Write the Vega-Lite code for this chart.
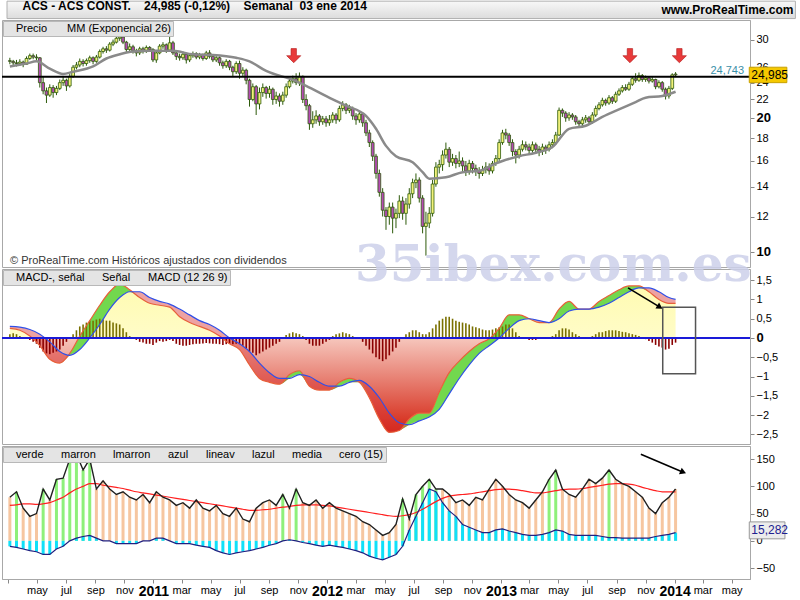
{
"$schema":"https://vega.github.io/schema/vega-lite/v6.json",
"padding":{"left":0,"right":4,"top":0,"bottom":0},
"background":"white",
"bounds":"flush",
"title":{"text":"ACS - ACS CONST.\u00a0\u00a0\u00a0\u00a024,985 (-0,12%)\u00a0\u00a0\u00a0\u00a0Semanal\u00a0\u00a003 ene 2014","anchor":"start","font":"Liberation Sans","fontSize":12,"fontWeight":"bold","color":"#000","offset":-13,"dx":22,"zindex":10},
"config":{"locale":{"number":{"decimal":",","thousands":".","grouping":[3],"currency":["","€"]}},"view":{"stroke":"#a8a8a8"},"font":"Liberation Sans","axis":{"labelFont":"Liberation Sans","labelFontSize":11,"labelColor":"#000","tickColor":"#888","domainColor":"#a8a8a8","grid":false,"tickSize":4,"labelOverlap":false}},
"spacing":2,
"resolve":{"scale":{"color":"independent"},"legend":{"color":"independent"}},
"datasets":{
"w":[
{"d":"2010-03-05","o":26.9,"h":27.3,"l":26.4,"c":26.8,"hm":0.10},
{"d":"2010-03-12","o":26.8,"h":27.0,"l":26.3,"c":26.6,"hm":0.12},
{"d":"2010-03-19","o":26.6,"h":27.0,"l":26.1,"c":26.5,"hm":0.10},
{"d":"2010-03-26","o":26.5,"h":27.1,"l":26.2,"c":26.7,"hm":0.05},
{"d":"2010-04-02","o":26.7,"h":26.9,"l":26.0,"c":26.4,"hm":0.02},
{"d":"2010-04-09","o":26.4,"h":27.5,"l":26.3,"c":27.2,"hm":0.0},
{"d":"2010-04-16","o":27.2,"h":27.9,"l":27.0,"c":27.6,"hm":-0.05},
{"d":"2010-04-23","o":27.6,"h":27.9,"l":27.1,"c":27.4,"hm":-0.10},
{"d":"2010-04-30","o":27.4,"h":27.8,"l":26.8,"c":27.3,"hm":-0.15},
{"d":"2010-05-07","o":27.3,"h":27.4,"l":23.4,"c":24.0,"hm":-0.25},
{"d":"2010-05-14","o":24.0,"h":24.8,"l":22.6,"c":23.0,"hm":-0.35},
{"d":"2010-05-21","o":23.0,"h":23.4,"l":21.6,"c":22.5,"hm":-0.40},
{"d":"2010-05-28","o":22.5,"h":23.8,"l":22.3,"c":23.4,"hm":-0.42},
{"d":"2010-06-04","o":23.4,"h":23.7,"l":22.2,"c":22.8,"hm":-0.38},
{"d":"2010-06-11","o":22.8,"h":23.6,"l":22.5,"c":23.3,"hm":-0.35},
{"d":"2010-06-18","o":23.3,"h":24.4,"l":23.1,"c":24.0,"hm":-0.30},
{"d":"2010-06-25","o":24.0,"h":24.8,"l":23.6,"c":24.3,"hm":-0.20},
{"d":"2010-07-02","o":24.3,"h":24.5,"l":23.0,"c":23.6,"hm":-0.10},
{"d":"2010-07-09","o":23.6,"h":25.1,"l":23.4,"c":24.8,"hm":0.0},
{"d":"2010-07-16","o":24.8,"h":26.3,"l":24.6,"c":26.0,"hm":0.10},
{"d":"2010-07-23","o":26.0,"h":26.7,"l":25.7,"c":26.3,"hm":0.20},
{"d":"2010-07-30","o":26.3,"h":27.2,"l":26.0,"c":26.8,"hm":0.30},
{"d":"2010-08-06","o":26.8,"h":27.1,"l":26.1,"c":26.5,"hm":0.35},
{"d":"2010-08-13","o":26.5,"h":27.2,"l":26.2,"c":26.9,"hm":0.40},
{"d":"2010-08-20","o":26.9,"h":27.6,"l":26.6,"c":27.3,"hm":0.45},
{"d":"2010-08-27","o":27.3,"h":27.5,"l":26.4,"c":26.8,"hm":0.45},
{"d":"2010-09-03","o":26.8,"h":27.7,"l":26.6,"c":27.4,"hm":0.48},
{"d":"2010-09-10","o":27.4,"h":28.5,"l":27.2,"c":28.2,"hm":0.50},
{"d":"2010-09-17","o":28.2,"h":28.9,"l":27.9,"c":28.6,"hm":0.48},
{"d":"2010-09-24","o":28.6,"h":29.0,"l":28.0,"c":28.4,"hm":0.45},
{"d":"2010-10-01","o":28.4,"h":29.6,"l":28.2,"c":29.3,"hm":0.45},
{"d":"2010-10-08","o":29.3,"h":30.0,"l":29.0,"c":29.6,"hm":0.40},
{"d":"2010-10-15","o":29.6,"h":30.6,"l":29.4,"c":30.2,"hm":0.38},
{"d":"2010-10-22","o":30.2,"h":30.8,"l":29.8,"c":30.4,"hm":0.35},
{"d":"2010-10-29","o":30.4,"h":30.6,"l":29.3,"c":29.6,"hm":0.25},
{"d":"2010-11-05","o":29.6,"h":29.8,"l":28.1,"c":28.5,"hm":0.15},
{"d":"2010-11-12","o":28.5,"h":29.4,"l":28.0,"c":28.9,"hm":0.05},
{"d":"2010-11-19","o":28.9,"h":29.2,"l":27.9,"c":28.3,"hm":0.0},
{"d":"2010-11-26","o":28.3,"h":28.6,"l":27.5,"c":28.0,"hm":-0.05},
{"d":"2010-12-03","o":28.0,"h":28.9,"l":27.7,"c":28.6,"hm":-0.10},
{"d":"2010-12-10","o":28.6,"h":28.9,"l":27.9,"c":28.3,"hm":-0.12},
{"d":"2010-12-17","o":28.3,"h":29.1,"l":28.0,"c":28.8,"hm":-0.15},
{"d":"2010-12-24","o":28.8,"h":29.0,"l":28.2,"c":28.5,"hm":-0.15},
{"d":"2010-12-31","o":28.5,"h":28.7,"l":26.7,"c":27.0,"hm":-0.18},
{"d":"2011-01-07","o":27.0,"h":28.3,"l":26.6,"c":28.0,"hm":-0.12},
{"d":"2011-01-14","o":28.0,"h":29.3,"l":27.8,"c":29.0,"hm":-0.08},
{"d":"2011-01-21","o":29.0,"h":29.6,"l":28.6,"c":29.2,"hm":-0.10},
{"d":"2011-01-28","o":29.2,"h":29.4,"l":28.0,"c":28.4,"hm":-0.08},
{"d":"2011-02-04","o":28.4,"h":30.9,"l":28.2,"c":29.5,"hm":-0.05},
{"d":"2011-02-11","o":29.5,"h":29.8,"l":27.7,"c":28.0,"hm":-0.08},
{"d":"2011-02-18","o":28.0,"h":28.3,"l":27.0,"c":27.5,"hm":-0.15},
{"d":"2011-02-25","o":27.5,"h":27.9,"l":26.9,"c":27.3,"hm":-0.18},
{"d":"2011-03-04","o":27.3,"h":28.2,"l":27.0,"c":27.8,"hm":-0.20},
{"d":"2011-03-11","o":27.8,"h":28.0,"l":26.5,"c":27.0,"hm":-0.20},
{"d":"2011-03-18","o":27.0,"h":27.9,"l":26.7,"c":27.6,"hm":-0.18},
{"d":"2011-03-25","o":27.6,"h":28.2,"l":27.3,"c":27.9,"hm":-0.16},
{"d":"2011-04-01","o":27.9,"h":28.1,"l":27.1,"c":27.4,"hm":-0.15},
{"d":"2011-04-08","o":27.4,"h":28.0,"l":27.1,"c":27.7,"hm":-0.15},
{"d":"2011-04-15","o":27.7,"h":27.9,"l":26.9,"c":27.2,"hm":-0.14},
{"d":"2011-04-22","o":27.2,"h":28.3,"l":27.0,"c":28.0,"hm":-0.13},
{"d":"2011-04-29","o":28.0,"h":28.4,"l":27.2,"c":27.5,"hm":-0.14},
{"d":"2011-05-06","o":27.5,"h":27.8,"l":26.7,"c":27.0,"hm":-0.15},
{"d":"2011-05-13","o":27.0,"h":27.6,"l":26.7,"c":27.3,"hm":-0.15},
{"d":"2011-05-20","o":27.3,"h":27.5,"l":26.2,"c":26.6,"hm":-0.16},
{"d":"2011-05-27","o":26.6,"h":26.9,"l":25.8,"c":26.2,"hm":-0.18},
{"d":"2011-06-03","o":26.2,"h":27.1,"l":25.9,"c":26.8,"hm":-0.16},
{"d":"2011-06-10","o":26.8,"h":27.0,"l":25.6,"c":26.0,"hm":-0.15},
{"d":"2011-06-17","o":26.0,"h":26.2,"l":24.7,"c":25.4,"hm":-0.16},
{"d":"2011-06-24","o":25.4,"h":26.8,"l":25.1,"c":26.5,"hm":-0.15},
{"d":"2011-07-01","o":26.5,"h":26.9,"l":24.5,"c":25.2,"hm":-0.16},
{"d":"2011-07-08","o":25.2,"h":26.0,"l":24.8,"c":25.6,"hm":-0.20},
{"d":"2011-07-15","o":25.6,"h":25.8,"l":23.8,"c":24.3,"hm":-0.28},
{"d":"2011-07-22","o":24.3,"h":24.5,"l":21.2,"c":22.0,"hm":-0.35},
{"d":"2011-07-29","o":22.0,"h":23.9,"l":21.8,"c":23.5,"hm":-0.38},
{"d":"2011-08-05","o":23.5,"h":23.7,"l":20.3,"c":21.5,"hm":-0.45},
{"d":"2011-08-12","o":21.5,"h":23.4,"l":20.9,"c":22.8,"hm":-0.40},
{"d":"2011-08-19","o":22.8,"h":23.9,"l":22.3,"c":23.4,"hm":-0.35},
{"d":"2011-08-26","o":23.4,"h":23.6,"l":22.1,"c":22.7,"hm":-0.30},
{"d":"2011-09-02","o":22.7,"h":23.6,"l":22.2,"c":23.2,"hm":-0.25},
{"d":"2011-09-09","o":23.2,"h":23.4,"l":21.4,"c":22.0,"hm":-0.20},
{"d":"2011-09-16","o":22.0,"h":22.9,"l":21.5,"c":22.4,"hm":-0.15},
{"d":"2011-09-23","o":22.4,"h":22.7,"l":21.2,"c":21.8,"hm":-0.10},
{"d":"2011-09-30","o":21.8,"h":22.9,"l":21.4,"c":22.5,"hm":-0.02},
{"d":"2011-10-07","o":22.5,"h":23.9,"l":22.2,"c":23.5,"hm":0.08},
{"d":"2011-10-14","o":23.5,"h":24.6,"l":23.3,"c":24.2,"hm":0.12},
{"d":"2011-10-21","o":24.2,"h":24.9,"l":23.9,"c":24.5,"hm":0.15},
{"d":"2011-10-28","o":24.5,"h":25.2,"l":23.7,"c":24.0,"hm":0.12},
{"d":"2011-11-04","o":24.0,"h":25.3,"l":23.6,"c":24.8,"hm":0.10},
{"d":"2011-11-11","o":24.8,"h":24.9,"l":21.6,"c":22.0,"hm":0.05},
{"d":"2011-11-18","o":22.0,"h":22.6,"l":20.8,"c":21.3,"hm":-0.05},
{"d":"2011-11-25","o":21.3,"h":21.5,"l":18.8,"c":19.4,"hm":-0.15},
{"d":"2011-12-02","o":19.4,"h":20.7,"l":19.0,"c":19.8,"hm":-0.20},
{"d":"2011-12-09","o":19.8,"h":20.8,"l":19.4,"c":20.2,"hm":-0.20},
{"d":"2011-12-16","o":20.2,"h":20.4,"l":19.2,"c":19.6,"hm":-0.20},
{"d":"2011-12-23","o":19.6,"h":20.2,"l":19.3,"c":19.9,"hm":-0.15},
{"d":"2011-12-30","o":19.9,"h":20.2,"l":19.1,"c":19.5,"hm":-0.10},
{"d":"2012-01-06","o":19.5,"h":20.3,"l":19.2,"c":19.8,"hm":-0.05},
{"d":"2012-01-13","o":19.8,"h":20.6,"l":19.5,"c":20.3,"hm":0.05},
{"d":"2012-01-20","o":20.3,"h":20.5,"l":19.4,"c":19.8,"hm":0.10},
{"d":"2012-01-27","o":19.8,"h":21.3,"l":19.6,"c":21.0,"hm":0.12},
{"d":"2012-02-03","o":21.0,"h":21.8,"l":20.7,"c":21.4,"hm":0.15},
{"d":"2012-02-10","o":21.4,"h":21.6,"l":20.4,"c":20.8,"hm":0.12},
{"d":"2012-02-17","o":20.8,"h":21.4,"l":20.5,"c":21.0,"hm":0.10},
{"d":"2012-02-24","o":21.0,"h":21.2,"l":19.8,"c":20.2,"hm":0.05},
{"d":"2012-03-02","o":20.2,"h":20.5,"l":19.3,"c":19.8,"hm":0.0},
{"d":"2012-03-09","o":19.8,"h":20.7,"l":19.5,"c":20.4,"hm":-0.02},
{"d":"2012-03-16","o":20.4,"h":20.6,"l":19.1,"c":19.5,"hm":-0.10},
{"d":"2012-03-23","o":19.5,"h":19.8,"l":18.2,"c":18.5,"hm":-0.20},
{"d":"2012-03-30","o":18.5,"h":18.8,"l":17.2,"c":17.6,"hm":-0.30},
{"d":"2012-04-06","o":17.6,"h":17.8,"l":16.0,"c":16.4,"hm":-0.40},
{"d":"2012-04-13","o":16.4,"h":16.6,"l":14.6,"c":15.0,"hm":-0.50},
{"d":"2012-04-20","o":15.0,"h":15.3,"l":13.3,"c":13.6,"hm":-0.55},
{"d":"2012-04-27","o":13.6,"h":13.9,"l":12.0,"c":12.4,"hm":-0.60},
{"d":"2012-05-04","o":12.4,"h":12.6,"l":11.2,"c":12.0,"hm":-0.55},
{"d":"2012-05-11","o":12.0,"h":12.9,"l":11.5,"c":12.6,"hm":-0.45},
{"d":"2012-05-18","o":12.6,"h":12.9,"l":11.0,"c":11.9,"hm":-0.35},
{"d":"2012-05-25","o":11.9,"h":12.5,"l":11.3,"c":12.2,"hm":-0.25},
{"d":"2012-06-01","o":12.2,"h":13.4,"l":11.9,"c":13.0,"hm":-0.10},
{"d":"2012-06-08","o":13.0,"h":13.3,"l":11.8,"c":12.2,"hm":0.0},
{"d":"2012-06-15","o":12.2,"h":13.2,"l":11.5,"c":12.8,"hm":0.10},
{"d":"2012-06-22","o":12.8,"h":13.9,"l":12.5,"c":13.5,"hm":0.15},
{"d":"2012-06-29","o":13.5,"h":14.6,"l":13.2,"c":14.3,"hm":0.20},
{"d":"2012-07-06","o":14.3,"h":15.0,"l":13.9,"c":14.5,"hm":0.20},
{"d":"2012-07-13","o":14.5,"h":14.7,"l":12.9,"c":13.2,"hm":0.15},
{"d":"2012-07-20","o":13.2,"h":13.4,"l":11.0,"c":11.4,"hm":0.10},
{"d":"2012-07-27","o":11.4,"h":12.3,"l":9.8,"c":11.6,"hm":0.10},
{"d":"2012-08-03","o":11.6,"h":12.6,"l":11.3,"c":12.2,"hm":0.15},
{"d":"2012-08-10","o":12.2,"h":14.5,"l":12.0,"c":14.2,"hm":0.25},
{"d":"2012-08-17","o":14.2,"h":15.9,"l":14.0,"c":15.5,"hm":0.35},
{"d":"2012-08-24","o":15.5,"h":16.1,"l":15.0,"c":15.7,"hm":0.45},
{"d":"2012-08-31","o":15.7,"h":16.9,"l":15.2,"c":16.5,"hm":0.50},
{"d":"2012-09-07","o":16.5,"h":17.6,"l":16.2,"c":17.0,"hm":0.55},
{"d":"2012-09-14","o":17.0,"h":17.2,"l":15.5,"c":15.9,"hm":0.55},
{"d":"2012-09-21","o":15.9,"h":16.6,"l":15.6,"c":16.2,"hm":0.50},
{"d":"2012-09-28","o":16.2,"h":16.5,"l":15.4,"c":15.8,"hm":0.45},
{"d":"2012-10-05","o":15.8,"h":16.8,"l":15.5,"c":16.0,"hm":0.42},
{"d":"2012-10-12","o":16.0,"h":16.3,"l":15.2,"c":15.6,"hm":0.40},
{"d":"2012-10-19","o":15.6,"h":16.0,"l":14.8,"c":15.2,"hm":0.38},
{"d":"2012-10-26","o":15.2,"h":16.1,"l":14.9,"c":15.8,"hm":0.35},
{"d":"2012-11-02","o":15.8,"h":16.0,"l":15.0,"c":15.4,"hm":0.30},
{"d":"2012-11-09","o":15.4,"h":15.7,"l":14.8,"c":15.2,"hm":0.28},
{"d":"2012-11-16","o":15.2,"h":15.5,"l":14.6,"c":15.0,"hm":0.25},
{"d":"2012-11-23","o":15.0,"h":15.6,"l":14.8,"c":15.3,"hm":0.22},
{"d":"2012-11-30","o":15.3,"h":15.9,"l":15.0,"c":15.5,"hm":0.20},
{"d":"2012-12-07","o":15.5,"h":15.8,"l":14.9,"c":15.2,"hm":0.20},
{"d":"2012-12-14","o":15.2,"h":16.0,"l":15.0,"c":15.8,"hm":0.22},
{"d":"2012-12-21","o":15.8,"h":16.5,"l":15.6,"c":16.2,"hm":0.25},
{"d":"2012-12-28","o":16.2,"h":17.9,"l":16.0,"c":17.6,"hm":0.28},
{"d":"2013-01-04","o":17.6,"h":18.8,"l":17.4,"c":18.5,"hm":0.30},
{"d":"2013-01-11","o":18.5,"h":18.9,"l":17.9,"c":18.3,"hm":0.35},
{"d":"2013-01-18","o":18.3,"h":18.5,"l":17.3,"c":17.6,"hm":0.35},
{"d":"2013-01-25","o":17.6,"h":17.9,"l":16.4,"c":16.8,"hm":0.25},
{"d":"2013-02-01","o":16.8,"h":17.0,"l":15.8,"c":16.5,"hm":0.15},
{"d":"2013-02-08","o":16.5,"h":17.3,"l":16.2,"c":17.0,"hm":0.05},
{"d":"2013-02-15","o":17.0,"h":17.8,"l":16.8,"c":17.4,"hm":0.0},
{"d":"2013-02-22","o":17.4,"h":17.7,"l":16.9,"c":17.2,"hm":-0.02},
{"d":"2013-03-01","o":17.2,"h":17.5,"l":16.5,"c":16.9,"hm":-0.05},
{"d":"2013-03-08","o":16.9,"h":17.7,"l":16.7,"c":17.4,"hm":-0.05},
{"d":"2013-03-15","o":17.4,"h":17.6,"l":16.6,"c":17.0,"hm":-0.05},
{"d":"2013-03-22","o":17.0,"h":17.3,"l":16.4,"c":16.8,"hm":-0.02},
{"d":"2013-03-29","o":16.8,"h":17.5,"l":16.5,"c":17.2,"hm":0.0},
{"d":"2013-04-05","o":17.2,"h":17.4,"l":16.6,"c":17.0,"hm":0.0},
{"d":"2013-04-12","o":17.0,"h":17.7,"l":16.8,"c":17.4,"hm":0.02},
{"d":"2013-04-19","o":17.4,"h":17.9,"l":17.1,"c":17.6,"hm":0.05},
{"d":"2013-04-26","o":17.6,"h":18.6,"l":17.4,"c":18.3,"hm":0.10},
{"d":"2013-05-03","o":18.3,"h":21.1,"l":18.2,"c":20.8,"hm":0.20},
{"d":"2013-05-10","o":20.8,"h":21.0,"l":20.1,"c":20.5,"hm":0.25},
{"d":"2013-05-17","o":20.5,"h":20.7,"l":19.6,"c":20.0,"hm":0.25},
{"d":"2013-05-24","o":20.0,"h":20.6,"l":19.7,"c":20.3,"hm":0.22},
{"d":"2013-05-31","o":20.3,"h":20.5,"l":19.8,"c":20.1,"hm":0.15},
{"d":"2013-06-07","o":20.1,"h":20.3,"l":19.3,"c":19.6,"hm":0.10},
{"d":"2013-06-14","o":19.6,"h":19.8,"l":19.0,"c":19.4,"hm":0.05},
{"d":"2013-06-21","o":19.4,"h":20.1,"l":19.1,"c":19.8,"hm":0.02},
{"d":"2013-06-28","o":19.8,"h":20.3,"l":19.5,"c":20.0,"hm":0.0},
{"d":"2013-07-05","o":20.0,"h":20.2,"l":19.3,"c":19.6,"hm":0.02},
{"d":"2013-07-12","o":19.6,"h":20.6,"l":19.4,"c":20.3,"hm":0.05},
{"d":"2013-07-19","o":20.3,"h":21.3,"l":20.1,"c":21.0,"hm":0.10},
{"d":"2013-07-26","o":21.0,"h":21.7,"l":20.8,"c":21.4,"hm":0.15},
{"d":"2013-08-02","o":21.4,"h":22.2,"l":21.2,"c":21.9,"hm":0.15},
{"d":"2013-08-09","o":21.9,"h":22.1,"l":21.3,"c":21.6,"hm":0.18},
{"d":"2013-08-16","o":21.6,"h":22.5,"l":21.4,"c":22.2,"hm":0.20},
{"d":"2013-08-23","o":22.2,"h":22.4,"l":21.5,"c":21.8,"hm":0.20},
{"d":"2013-08-30","o":21.8,"h":22.9,"l":21.6,"c":22.6,"hm":0.20},
{"d":"2013-09-06","o":22.6,"h":23.3,"l":22.4,"c":23.0,"hm":0.18},
{"d":"2013-09-13","o":23.0,"h":23.7,"l":22.8,"c":23.4,"hm":0.16},
{"d":"2013-09-20","o":23.4,"h":23.8,"l":23.0,"c":23.2,"hm":0.15},
{"d":"2013-09-27","o":23.2,"h":24.1,"l":23.0,"c":23.8,"hm":0.12},
{"d":"2013-10-04","o":23.8,"h":24.8,"l":23.6,"c":24.5,"hm":0.10},
{"d":"2013-10-11","o":24.5,"h":25.2,"l":24.0,"c":24.3,"hm":0.08},
{"d":"2013-10-18","o":24.3,"h":25.3,"l":24.1,"c":24.9,"hm":0.05},
{"d":"2013-10-25","o":24.9,"h":25.1,"l":24.1,"c":24.4,"hm":0.02},
{"d":"2013-11-01","o":24.4,"h":24.9,"l":24.1,"c":24.6,"hm":-0.03},
{"d":"2013-11-08","o":24.6,"h":24.8,"l":23.9,"c":24.2,"hm":-0.08},
{"d":"2013-11-15","o":24.2,"h":24.7,"l":24.0,"c":24.4,"hm":-0.12},
{"d":"2013-11-22","o":24.4,"h":24.5,"l":23.2,"c":23.5,"hm":-0.18},
{"d":"2013-11-29","o":23.5,"h":24.3,"l":23.3,"c":24.0,"hm":-0.22},
{"d":"2013-12-06","o":24.0,"h":24.2,"l":22.9,"c":23.2,"hm":-0.25},
{"d":"2013-12-13","o":23.2,"h":23.4,"l":22.0,"c":22.4,"hm":-0.30},
{"d":"2013-12-20","o":22.4,"h":23.6,"l":22.1,"c":23.3,"hm":-0.28},
{"d":"2013-12-27","o":23.3,"h":25.2,"l":23.1,"c":25.0,"hm":-0.18},
{"d":"2014-01-03","o":25.1,"h":25.35,"l":24.7,"c":24.985,"hm":-0.12}
],
"ema":[
{"d":"2010-03-05","e":26.1},{"d":"2010-04-09","e":26.5},{"d":"2010-04-30","e":26.8},{"d":"2010-05-28","e":25.8},{"d":"2010-06-25","e":25.1},{"d":"2010-07-16","e":25.4},{"d":"2010-08-27","e":26.1},{"d":"2010-09-24","e":27.2},{"d":"2010-10-22","e":27.8},{"d":"2010-11-19","e":28.2},{"d":"2010-12-24","e":28.3},{"d":"2011-02-11","e":28.3},{"d":"2011-03-25","e":27.8},{"d":"2011-05-06","e":27.7},{"d":"2011-06-24","e":27.3},{"d":"2011-07-22","e":26.8},{"d":"2011-08-26","e":25.5},{"d":"2011-10-28","e":24.2},{"d":"2011-11-18","e":23.6},{"d":"2012-01-13","e":22.0},{"d":"2012-02-10","e":21.3},{"d":"2012-03-23","e":20.2},{"d":"2012-04-13","e":18.9},{"d":"2012-05-04","e":17.3},{"d":"2012-05-25","e":16.4},{"d":"2012-06-29","e":15.9},{"d":"2012-07-20","e":15.1},{"d":"2012-08-03","e":14.6},{"d":"2012-09-07","e":14.7},{"d":"2012-10-12","e":15.1},{"d":"2012-11-16","e":15.2},{"d":"2012-12-21","e":15.8},{"d":"2013-01-04","e":16.0},{"d":"2013-02-08","e":16.4},{"d":"2013-03-15","e":16.7},{"d":"2013-04-19","e":17.2},{"d":"2013-05-24","e":18.9},{"d":"2013-06-28","e":19.2},{"d":"2013-08-02","e":20.1},{"d":"2013-09-06","e":20.9},{"d":"2013-10-11","e":21.7},{"d":"2013-11-01","e":22.2},{"d":"2013-12-06","e":22.4},{"d":"2014-01-03","e":22.9}
],
"macd":[
{"d":"2010-03-05","m":0.25,"s":0.30,"lo":0.25},{"d":"2010-03-26","m":0.20,"s":0.28,"lo":0.20},{"d":"2010-04-16","m":0.05,"s":0.22,"lo":0.05},{"d":"2010-05-07","m":-0.20,"s":0.10,"lo":-0.20},{"d":"2010-05-28","m":-0.55,"s":-0.10,"lo":-0.55},{"d":"2010-06-18","m":-0.65,"s":-0.35,"lo":-0.65},{"d":"2010-07-09","m":-0.40,"s":-0.45,"lo":-0.45},{"d":"2010-07-30","m":0.05,"s":-0.30,"lo":-0.30},{"d":"2010-08-20","m":0.45,"s":0.0,"lo":0.0},{"d":"2010-09-10","m":0.85,"s":0.35,"lo":0.35},{"d":"2010-10-01","m":1.20,"s":0.75,"lo":0.75},{"d":"2010-10-22","m":1.40,"s":1.05,"lo":1.05},{"d":"2010-11-12","m":1.25,"s":1.20,"lo":1.20},{"d":"2010-12-03","m":1.05,"s":1.20,"lo":1.05},{"d":"2010-12-24","m":0.90,"s":1.05,"lo":0.90},{"d":"2011-01-14","m":0.85,"s":0.95,"lo":0.85},{"d":"2011-02-04","m":0.80,"s":0.88,"lo":0.80},{"d":"2011-02-25","m":0.55,"s":0.75,"lo":0.55},{"d":"2011-03-18","m":0.40,"s":0.60,"lo":0.40},{"d":"2011-04-08","m":0.30,"s":0.45,"lo":0.30},{"d":"2011-04-29","m":0.20,"s":0.35,"lo":0.20},{"d":"2011-05-20","m":0.05,"s":0.20,"lo":0.05},{"d":"2011-06-10","m":-0.15,"s":0.0,"lo":-0.15},{"d":"2011-07-01","m":-0.30,"s":-0.15,"lo":-0.30},{"d":"2011-07-22","m":-0.70,"s":-0.35,"lo":-0.70},{"d":"2011-08-12","m":-1.05,"s":-0.65,"lo":-1.05},{"d":"2011-09-02","m":-1.15,"s":-0.90,"lo":-1.15},{"d":"2011-09-23","m":-1.20,"s":-1.05,"lo":-1.20},{"d":"2011-10-14","m":-0.95,"s":-1.05,"lo":-1.05},{"d":"2011-11-04","m":-0.85,"s":-0.95,"lo":-0.95},{"d":"2011-11-25","m":-1.25,"s":-1.0,"lo":-1.25},{"d":"2011-12-16","m":-1.35,"s":-1.15,"lo":-1.35},{"d":"2012-01-06","m":-1.35,"s":-1.25,"lo":-1.35},{"d":"2012-01-27","m":-1.15,"s":-1.25,"lo":-1.25},{"d":"2012-02-17","m":-1.05,"s":-1.15,"lo":-1.15},{"d":"2012-03-09","m":-1.15,"s":-1.10,"lo":-1.15},{"d":"2012-03-30","m":-1.55,"s":-1.25,"lo":-1.55},{"d":"2012-04-20","m":-2.10,"s":-1.55,"lo":-2.10},{"d":"2012-05-11","m":-2.45,"s":-1.95,"lo":-2.45},{"d":"2012-06-01","m":-2.40,"s":-2.20,"lo":-2.40},{"d":"2012-06-22","m":-2.10,"s":-2.25,"lo":-2.25},{"d":"2012-07-13","m":-1.95,"s":-2.15,"lo":-2.15},{"d":"2012-08-03","m":-1.95,"s":-2.05,"lo":-2.05},{"d":"2012-08-24","m":-1.40,"s":-1.85,"lo":-1.85},{"d":"2012-09-14","m":-0.90,"s":-1.45,"lo":-1.45},{"d":"2012-10-05","m":-0.60,"s":-1.05,"lo":-1.05},{"d":"2012-10-26","m":-0.35,"s":-0.70,"lo":-0.70},{"d":"2012-11-16","m":-0.15,"s":-0.40,"lo":-0.40},{"d":"2012-12-07","m":-0.02,"s":-0.20,"lo":-0.20},{"d":"2012-12-28","m":0.25,"s":0.0,"lo":0.0},{"d":"2013-01-18","m":0.60,"s":0.25,"lo":0.25},{"d":"2013-02-08","m":0.60,"s":0.45,"lo":0.45},{"d":"2013-03-01","m":0.50,"s":0.50,"lo":0.50},{"d":"2013-03-22","m":0.40,"s":0.45,"lo":0.40},{"d":"2013-04-12","m":0.40,"s":0.40,"lo":0.40},{"d":"2013-05-03","m":0.75,"s":0.50,"lo":0.50},{"d":"2013-05-24","m":0.95,"s":0.70,"lo":0.70},{"d":"2013-06-14","m":0.75,"s":0.75,"lo":0.75},{"d":"2013-07-05","m":0.75,"s":0.75,"lo":0.75},{"d":"2013-07-26","m":0.95,"s":0.80,"lo":0.80},{"d":"2013-08-16","m":1.10,"s":0.90,"lo":0.90},{"d":"2013-09-06","m":1.25,"s":1.05,"lo":1.05},{"d":"2013-09-27","m":1.35,"s":1.20,"lo":1.20},{"d":"2013-10-18","m":1.35,"s":1.30,"lo":1.30},{"d":"2013-11-08","m":1.20,"s":1.30,"lo":1.20},{"d":"2013-11-29","m":1.00,"s":1.20,"lo":1.00},{"d":"2013-12-20","m":0.90,"s":1.05,"lo":0.90},{"d":"2014-01-03","m":0.90,"s":1.00,"lo":0.90}
],
"osc":[
{"d":"2010-03-05","ab":-10,"k":80,"r":65},{"d":"2010-03-19","ab":-12,"k":90,"r":66},{"d":"2010-04-02","ab":-15,"k":60,"r":68},{"d":"2010-04-16","ab":-18,"k":45,"r":68},{"d":"2010-04-30","ab":-20,"k":50,"r":67},{"d":"2010-05-14","ab":-25,"k":95,"r":68},{"d":"2010-05-28","ab":-25,"k":75,"r":70},{"d":"2010-06-11","ab":-15,"k":113,"r":75},{"d":"2010-06-25","ab":-10,"k":115,"r":80},{"d":"2010-07-09","ab":0,"k":150,"r":88},{"d":"2010-07-23","ab":5,"k":160,"r":95},{"d":"2010-08-06","ab":8,"k":130,"r":100},{"d":"2010-08-20","ab":10,"k":150,"r":105},{"d":"2010-09-03","ab":5,"k":95,"r":105},{"d":"2010-09-17","ab":0,"k":110,"r":102},{"d":"2010-10-01","ab":0,"k":95,"r":100},{"d":"2010-10-15","ab":-5,"k":85,"r":98},{"d":"2010-10-29","ab":-5,"k":90,"r":96},{"d":"2010-11-12","ab":-5,"k":80,"r":93},{"d":"2010-11-26","ab":-5,"k":75,"r":90},{"d":"2010-12-10","ab":0,"k":85,"r":88},{"d":"2010-12-24","ab":0,"k":70,"r":86},{"d":"2011-01-07","ab":5,"k":90,"r":84},{"d":"2011-01-21","ab":5,"k":80,"r":82},{"d":"2011-02-04","ab":0,"k":75,"r":80},{"d":"2011-02-18","ab":-5,"k":65,"r":78},{"d":"2011-03-04","ab":-5,"k":70,"r":76},{"d":"2011-03-18","ab":-5,"k":60,"r":74},{"d":"2011-04-01","ab":-8,"k":75,"r":72},{"d":"2011-04-15","ab":-10,"k":60,"r":70},{"d":"2011-04-29","ab":-12,"k":55,"r":68},{"d":"2011-05-13","ab":-18,"k":65,"r":66},{"d":"2011-05-27","ab":-22,"k":50,"r":64},{"d":"2011-06-10","ab":-25,"k":45,"r":62},{"d":"2011-06-24","ab":-22,"k":60,"r":60},{"d":"2011-07-08","ab":-20,"k":40,"r":58},{"d":"2011-07-22","ab":-18,"k":35,"r":56},{"d":"2011-08-05","ab":-15,"k":60,"r":56},{"d":"2011-08-19","ab":-12,"k":70,"r":57},{"d":"2011-09-02","ab":-8,"k":75,"r":58},{"d":"2011-09-16","ab":-5,"k":65,"r":60},{"d":"2011-09-30","ab":0,"k":85,"r":62},{"d":"2011-10-14","ab":2,"k":60,"r":63},{"d":"2011-10-28","ab":0,"k":95,"r":65},{"d":"2011-11-11","ab":-3,"k":70,"r":66},{"d":"2011-11-25","ab":-5,"k":65,"r":66},{"d":"2011-12-09","ab":-8,"k":75,"r":66},{"d":"2011-12-23","ab":-10,"k":60,"r":65},{"d":"2012-01-06","ab":-8,"k":70,"r":64},{"d":"2012-01-20","ab":-10,"k":60,"r":62},{"d":"2012-02-03","ab":-12,"k":55,"r":60},{"d":"2012-02-17","ab":-15,"k":50,"r":58},{"d":"2012-03-02","ab":-18,"k":45,"r":56},{"d":"2012-03-16","ab":-22,"k":35,"r":54},{"d":"2012-03-30","ab":-28,"k":30,"r":52},{"d":"2012-04-13","ab":-32,"k":20,"r":50},{"d":"2012-04-27","ab":-35,"k":10,"r":48},{"d":"2012-05-11","ab":-30,"k":15,"r":46},{"d":"2012-05-25","ab":-25,"k":30,"r":45},{"d":"2012-06-08","ab":-10,"k":77,"r":46},{"d":"2012-06-22","ab":20,"k":40,"r":48},{"d":"2012-07-06","ab":45,"k":85,"r":52},{"d":"2012-07-20","ab":70,"k":100,"r":58},{"d":"2012-08-03","ab":95,"k":113,"r":65},{"d":"2012-08-17","ab":90,"k":95,"r":72},{"d":"2012-08-31","ab":70,"k":95,"r":78},{"d":"2012-09-14","ab":55,"k":85,"r":82},{"d":"2012-09-28","ab":45,"k":70,"r":84},{"d":"2012-10-12","ab":30,"k":75,"r":85},{"d":"2012-10-26","ab":25,"k":65,"r":86},{"d":"2012-11-09","ab":20,"k":80,"r":88},{"d":"2012-11-23","ab":15,"k":75,"r":90},{"d":"2012-12-07","ab":15,"k":95,"r":92},{"d":"2012-12-21","ab":20,"k":113,"r":94},{"d":"2013-01-04","ab":22,"k":100,"r":95},{"d":"2013-01-18","ab":18,"k":85,"r":95},{"d":"2013-02-01","ab":15,"k":75,"r":94},{"d":"2013-02-15","ab":12,"k":70,"r":92},{"d":"2013-03-01","ab":10,"k":60,"r":90},{"d":"2013-03-15","ab":10,"k":75,"r":88},{"d":"2013-03-29","ab":12,"k":90,"r":88},{"d":"2013-04-12","ab":15,"k":113,"r":90},{"d":"2013-04-26","ab":20,"k":130,"r":92},{"d":"2013-05-10","ab":18,"k":95,"r":94},{"d":"2013-05-24","ab":12,"k":85,"r":95},{"d":"2013-06-07","ab":10,"k":80,"r":95},{"d":"2013-06-21","ab":10,"k":95,"r":96},{"d":"2013-07-05","ab":10,"k":113,"r":98},{"d":"2013-07-19","ab":10,"k":105,"r":100},{"d":"2013-08-02","ab":8,"k":115,"r":102},{"d":"2013-08-16","ab":6,"k":130,"r":104},{"d":"2013-08-30","ab":6,"k":113,"r":105},{"d":"2013-09-13","ab":5,"k":105,"r":105},{"d":"2013-09-27","ab":5,"k":100,"r":104},{"d":"2013-10-11","ab":5,"k":90,"r":102},{"d":"2013-10-25","ab":5,"k":80,"r":98},{"d":"2013-11-08","ab":5,"k":60,"r":95},{"d":"2013-11-22","ab":8,"k":50,"r":92},{"d":"2013-12-06","ab":10,"k":70,"r":90},{"d":"2013-12-20","ab":12,"k":80,"r":90},{"d":"2014-01-03","ab":15,"k":95,"r":90}
]
},
"vconcat":[
{
"width":748,"height":247,
"layer":[
{"data":{"values":[{}]},"mark":{"type":"rect","fill":{"gradient":"linear","x1":0,"y1":0,"x2":0,"y2":1,"stops":[{"offset":0,"color":"#f8f8f8"},{"offset":1,"color":"#dcdcdc"}]},"stroke":"#b0b0b0","strokeWidth":1},
 "encoding":{"x":{"datum":{"year":2010,"month":2,"date":27},"scale":{"domain":[{"year":2010,"month":2,"date":27},{"year":2014,"month":5,"date":29}]},"axis":null},"x2":{"datum":{"year":2014,"month":9,"date":12}},"y":{"datum":36.6,"scale":{"type":"log","domain":[9.24,33.2],"nice":false,"zero":false},"axis":{"orient":"right","values":[10,12,14,16,18,20,22,24,26,30],"labelOverlap":false,"labelFontWeight":{"condition":{"test":"datum.value==20||datum.value==10","value":"bold"},"value":"normal"},"labelFontSize":{"condition":{"test":"datum.value==20||datum.value==10","value":13},"value":11},"title":null,"zindex":0}},"y2":{"datum":33.45}}},
{"data":{"name":"w"},"mark":{"type":"rule","color":"#2d5a0a","strokeWidth":1},
 "encoding":{"x":{"field":"d","type":"temporal"},"y":{"field":"l","type":"quantitative"},"y2":{"field":"h"}}},
{"data":{"name":"w"},"mark":{"type":"bar","width":2.8,"stroke":"#2d5a0a","strokeWidth":0.8},
 "encoding":{"x":{"field":"d","type":"temporal"},"y":{"field":"o","type":"quantitative"},"y2":{"field":"c"},
 "fill":{"condition":{"test":"datum.c >= datum.o","value":"#f2f27a"},"value":"#b44cb4"}}},
{"data":{"name":"ema"},"mark":{"type":"line","color":"#8a8a8a","strokeWidth":2.5,"interpolate":"monotone"},
 "encoding":{"x":{"field":"d","type":"temporal"},"y":{"field":"e","type":"quantitative"}}},
{"data":{"values":[{}]},"mark":{"type":"rule","color":"#000","strokeWidth":2},"encoding":{"y":{"datum":24.743}}},
{"data":{"values":[{}]},"mark":{"type":"text","text":"24,743","align":"right","baseline":"bottom","dy":-1,"fontSize":11,"color":"#3a8fa8"},
 "encoding":{"x":{"datum":{"year":2014,"month":5,"date":27}},"y":{"datum":24.743}}},
{"data":{"values":[{"d":"2011-10-23"},{"d":"2013-09-29"},{"d":"2014-01-11"}]},"mark":{"type":"point","shape":"M-0.38,-1L0.38,-1L0.38,0L1,0L0,1L-1,0L-0.38,0Z","size":200,"filled":true,"fill":"#e83a3a","stroke":"#b01818","strokeWidth":0.6,"opacity":1},
 "encoding":{"x":{"field":"d","type":"temporal"},"y":{"datum":27.6}}},
{"data":{"values":[{}]},"mark":{"type":"rect","fill":"#f5c800","stroke":"#c8a000","strokeWidth":1},
 "encoding":{"x":{"datum":{"year":2014,"month":6,"date":7}},"x2":{"datum":{"year":2014,"month":8,"date":25}},"y":{"datum":26.0},"y2":{"datum":24.0}}},
{"data":{"values":[{}]},"mark":{"type":"text","text":"24,985","align":"left","baseline":"middle","dx":2,"fontSize":12,"color":"#000"},
 "encoding":{"x":{"datum":{"year":2014,"month":6,"date":7}},"y":{"datum":24.985}}},
{"data":{"values":[{}]},"mark":{"type":"text","text":"© ProRealTime.com Históricos ajustados con dividendos","align":"left","baseline":"bottom","dx":3,"dy":-1,"fontSize":11,"color":"#333"},
 "encoding":{"x":{"datum":{"year":2010,"month":2,"date":27}},"y":{"datum":9.24}}},
{"data":{"values":[{}]},"mark":{"type":"text","text":"www.ProRealTime.com","align":"right","baseline":"alphabetic","dy":-6,"fontSize":12,"fontWeight":"bold","color":"#000"},
 "encoding":{"x":{"datum":{"year":2014,"month":9,"date":8}},"y":{"datum":33.2}}},
{"data":{"values":[{}]},"mark":{"type":"point","opacity":0},
 "encoding":{"color":{"datum":"Precio","type":"nominal","scale":{"domain":["Precio","MM (Exponencial 26)"],"range":["#2a7a2a","#a0a0a0"]},
 "legend":{"orient":"top-left","direction":"horizontal","columns":2,"title":null,"symbolSize":0,"symbolStrokeWidth":0,"labelOffset":0,"labelFontSize":11,"labelFont":"Liberation Sans","fillColor":"#e4e4e4","strokeColor":"#b8b8b8","padding":2,"offset":1,"columnPadding":8,
 "encode":{"labels":{"update":{"fill":{"signal":"['#2a6a2a','#a8a8a8'][datum.index]"}}}}}}}}
]
},
{
"width":748,"height":175,
"layer":[
{"data":{"values":[{}]},"mark":{"type":"text","text":"35ibex.com.es","align":"center","baseline":"alphabetic","dy":12,"fontSize":50,"font":"DejaVu Serif","fontWeight":"bold","color":"#cdd1ea","opacity":0.85},
 "encoding":{"x":{"datum":{"year":2013,"month":4,"date":21},"scale":{"domain":[{"year":2010,"month":2,"date":27},{"year":2014,"month":5,"date":29}]},"axis":null},"y":{"datum":1.79,"scale":{"domain":[-2.75,1.79],"nice":false,"zero":false},"axis":{"orient":"right","values":[-2.5,-2,-1.5,-1,-0.5,0,0.5,1,1.5],"tickCount":20,"format":".1~f","labelOverlap":false,"labelFontWeight":{"condition":{"test":"datum.value==0","value":"bold"},"value":"normal"},"labelFontSize":{"condition":{"test":"datum.value==0","value":13},"value":11},"title":null}}}},
{"data":{"name":"macd"},"mark":{"type":"area","interpolate":"monotone","color":{"gradient":"linear","x1":0,"y1":0,"x2":0,"y2":1,"stops":[{"offset":0,"color":"#fffbb0"},{"offset":0.362,"color":"#fffcc8"},{"offset":0.366,"color":"#f6c6bc"},{"offset":1,"color":"#d42412"}]}},
 "encoding":{"x":{"field":"d","type":"temporal"},"y":{"field":"m","type":"quantitative"},"y2":{"datum":0}}},
{"data":{"name":"macd"},"mark":{"type":"area","interpolate":"monotone","color":"#72d84e"},
 "encoding":{"x":{"field":"d","type":"temporal"},"y":{"field":"m","type":"quantitative"},"y2":{"field":"lo"}}},
{"data":{"name":"macd"},"mark":{"type":"area","interpolate":"monotone","color":"#d83030","opacity":0.45},
 "encoding":{"x":{"field":"d","type":"temporal"},"y":{"field":"s","type":"quantitative"},"y2":{"field":"lo"}}},
{"data":{"name":"w"},"mark":{"type":"bar","width":1.6},
 "encoding":{"x":{"field":"d","type":"temporal"},"y":{"field":"hm","type":"quantitative"},"y2":{"datum":0},
 "color":{"condition":{"test":"datum.hm >= 0","value":"#7a7000"},"value":"#8a0000"}}},
{"data":{"name":"macd"},"mark":{"type":"line","interpolate":"monotone","color":"#e8603a","strokeWidth":1.2},
 "encoding":{"x":{"field":"d","type":"temporal"},"y":{"field":"m","type":"quantitative"}}},
{"data":{"name":"macd"},"mark":{"type":"line","interpolate":"monotone","color":"#3050e8","strokeWidth":1.2},
 "encoding":{"x":{"field":"d","type":"temporal"},"y":{"field":"s","type":"quantitative"}}},
{"data":{"values":[{}]},"mark":{"type":"rule","color":"#1a1ad8","strokeWidth":1.8},"encoding":{"y":{"datum":0}}},
{"data":{"values":[{}]},"mark":{"type":"rule","color":"#000","strokeWidth":1.6},
 "encoding":{"x":{"datum":{"year":2013,"month":9,"date":25}},"x2":{"datum":{"year":2013,"month":12,"date":1}},"y":{"datum":1.30},"y2":{"datum":0.80}}},
{"data":{"values":[{}]},"mark":{"type":"point","shape":"triangle-right","angle":31,"size":50,"filled":true,"color":"#000","opacity":1},
 "encoding":{"x":{"datum":{"year":2013,"month":12,"date":1}},"y":{"datum":0.80}}},
{"data":{"values":[{}]},"mark":{"type":"rect","fill":null,"fillOpacity":0,"stroke":"#555","strokeWidth":1.5},
 "encoding":{"x":{"datum":{"year":2013,"month":12,"date":7}},"x2":{"datum":{"year":2014,"month":2,"date":14}},"y":{"datum":0.80},"y2":{"datum":-0.93}}},
{"data":{"values":[{}]},"mark":{"type":"point","opacity":0},
 "encoding":{"color":{"datum":"MACD-, señal","type":"nominal","scale":{"domain":["MACD-, señal","Señal","MACD (12 26 9)"],"range":["#601818","#3050e8","#f06040"]},
 "legend":{"orient":"top-left","direction":"horizontal","columns":3,"title":null,"symbolSize":0,"symbolStrokeWidth":0,"labelOffset":0,"labelFontSize":11,"labelFont":"Liberation Sans","fillColor":"#e4e4e4","strokeColor":"#b8b8b8","padding":2,"offset":1,"columnPadding":6,
 "encode":{"labels":{"update":{"fill":{"signal":"['#5a1a3a','#3050e8','#f06040'][datum.index]"}}}}}}}}
]
},
{
"width":748,"height":133,
"layer":[
{"data":{"name":"osc"},"mark":{"type":"bar","width":3},
 "encoding":{"x":{"field":"d","type":"temporal","scale":{"domain":[{"year":2010,"month":2,"date":27},{"year":2014,"month":5,"date":29}]},
 "axis":{"orient":"bottom","title":null,"tickCount":{"interval":"month","step":2},"labelExpr":"datum.value < datetime(2010,3,15) ? '' : month(datum.value)==0 ? timeFormat(datum.value,'%Y') : ['ene','feb','mar','abr','may','jun','jul','ago','sep','oct','nov','dic'][month(datum.value)]","labelFontWeight":{"condition":{"test":"month(datum.value)==0","value":"bold"},"value":"normal"},"labelFontSize":{"condition":{"test":"month(datum.value)==0","value":14},"value":11},"labelPadding":1,"labelOverlap":false,"domainColor":"#a8a8a8"}},
 "y":{"field":"k","type":"quantitative","scale":{"domain":[-70,174],"nice":false,"zero":false},"axis":{"orient":"right","values":[-50,0,50,100,150],"tickCount":20,"format":"d","labelOverlap":false,"title":null}},"y2":{"datum":0},
 "color":{"condition":{"test":"datum.k > datum.r + 22","value":"#8ef07a"},"value":"#f6c6a0"}}},
{"data":{"name":"osc"},"mark":{"type":"bar","width":3,"color":"#10e0f8"},
 "encoding":{"x":{"field":"d","type":"temporal"},"y":{"field":"ab","type":"quantitative"},"y2":{"datum":0}}},
{"data":{"name":"osc"},"mark":{"type":"line","color":"#ff2020","strokeWidth":1.2,"interpolate":"monotone"},
 "encoding":{"x":{"field":"d","type":"temporal"},"y":{"field":"r","type":"quantitative"}}},
{"data":{"name":"osc"},"mark":{"type":"line","color":"#202020","strokeWidth":1.4},
 "encoding":{"x":{"field":"d","type":"temporal"},"y":{"field":"k","type":"quantitative"}}},
{"data":{"name":"osc"},"mark":{"type":"line","color":"#202080","strokeWidth":1.2},
 "encoding":{"x":{"field":"d","type":"temporal"},"y":{"field":"ab","type":"quantitative"}}},
{"data":{"values":[{}]},"mark":{"type":"rect","fill":"#ececec","stroke":"#999","strokeWidth":1},
 "encoding":{"x":{"datum":{"year":2014,"month":6,"date":7}},"x2":{"datum":{"year":2014,"month":8,"date":21}},"y":{"datum":34.8},"y2":{"datum":3.7}}},
{"data":{"values":[{}]},"mark":{"type":"text","text":"15,282","align":"left","baseline":"middle","dx":2,"fontSize":12,"color":"#202090"},
 "encoding":{"x":{"datum":{"year":2014,"month":6,"date":7}},"y":{"datum":19.3}}},
{"data":{"values":[{}]},"mark":{"type":"rule","color":"#000","strokeWidth":1.6},
 "encoding":{"x":{"datum":{"year":2013,"month":10,"date":22}},"x2":{"datum":{"year":2014,"month":1,"date":19}},"y":{"datum":159},"y2":{"datum":126}}},
{"data":{"values":[{}]},"mark":{"type":"point","shape":"triangle-right","angle":23,"size":50,"filled":true,"color":"#000","opacity":1},
 "encoding":{"x":{"datum":{"year":2014,"month":1,"date":19}},"y":{"datum":126}}},
{"data":{"values":[{}]},"mark":{"type":"point","opacity":0},
 "encoding":{"color":{"datum":"verde","type":"nominal","scale":{"domain":["verde","marron","lmarron","azul","lineav","lazul","media","cero (15)"],"range":["#80ff80","#f6c6a0","#400040","#00e5ff","#207020","#202080","#ff0000","#000000"]},
 "legend":{"orient":"top-left","direction":"horizontal","columns":8,"title":null,"symbolSize":0,"symbolStrokeWidth":0,"labelOffset":0,"labelFontSize":11,"labelFont":"Liberation Sans","fillColor":"#e4e4e4","strokeColor":"#b8b8b8","padding":2,"offset":1,"columnPadding":6,
 "encode":{"labels":{"update":{"fill":{"signal":"['#70ff70','#f8c8a0','#3a1040','#10e8ff','#1a7a3a','#202070','#ff1010','#000000'][datum.index]"}}}}}}}}
]
}
]
}
